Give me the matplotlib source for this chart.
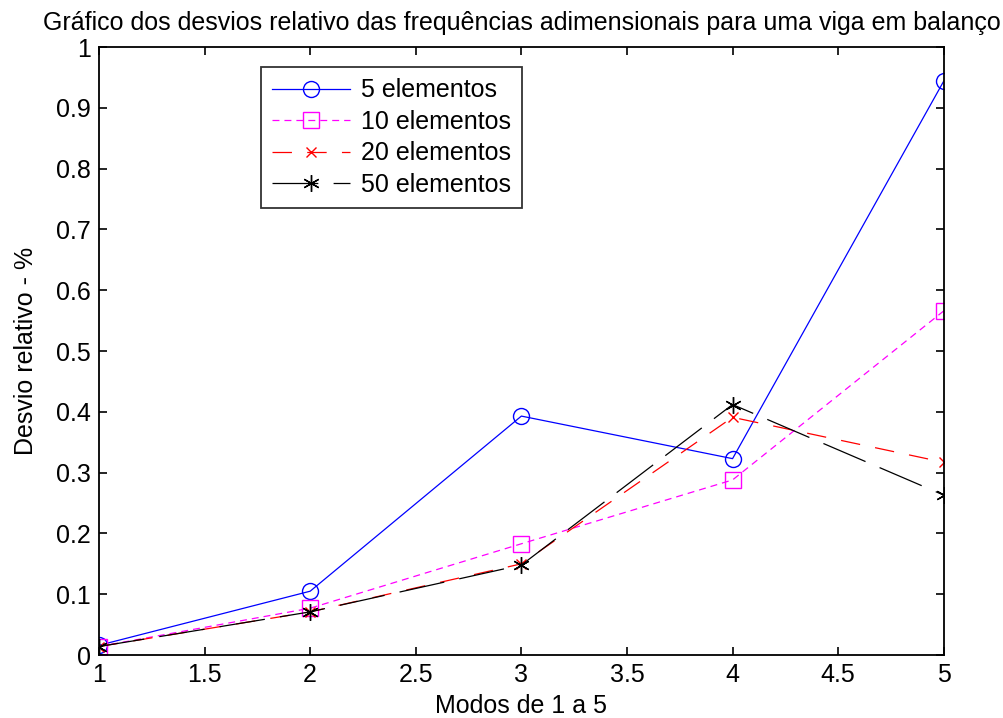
import numpy as np
import matplotlib.pyplot as plt

plt.rcParams['font.family'] = ['Liberation Sans', 'DejaVu Sans']
plt.rcParams['lines.scale_dashes'] = False

## DADOS
modos = [1, 2, 3, 4, 5]
desvio_5 = [0.016, 0.105, 0.393, 0.323, 0.944]
desvio_10 = [0.014, 0.077, 0.183, 0.288, 0.566]
desvio_20 = [0.014, 0.071, 0.150, 0.391, 0.317]
desvio_50 = [0.014, 0.071, 0.148, 0.412, 0.263]

fig = plt.figure(figsize=(10.04, 7.18), dpi=100)
ax = fig.add_axes([0.0986, 0.0877, 0.8414, 0.8468])

fs = 18
lw = 0.9
ax.plot(modos, desvio_5, color='#0000ff', lw=lw, marker='o', ms=11.5,
        mfc='none', mec='#0000ff', mew=1.0, label='5 elementos')
ax.plot(modos, desvio_10, color='#ff00ff', lw=lw, ls=(0, (5, 3.6)), marker='s',
        ms=11.5, mfc='none', mec='#ff00ff', mew=1.0, label='10 elementos')
ax.plot(modos, desvio_20, color='#ff0000', lw=lw, ls=(0, (14, 11)), marker='x',
        ms=7, mew=1.0, label='20 elementos')
ax.plot(modos, desvio_50, color='black', lw=lw, ls=(0, (33, 11)), marker=(6, 2, 0),
        ms=12, mew=1.0, label='50 elementos')

ax.set_xlim(1, 5)
ax.set_ylim(0, 1)
ax.set_xticks(np.arange(1, 5.01, 0.5))
ax.set_xticklabels(['1', '1.5', '2', '2.5', '3', '3.5', '4', '4.5', '5'])
ax.set_yticks(np.arange(0, 1.01, 0.1))
ax.set_yticklabels(['0', '0.1', '0.2', '0.3', '0.4', '0.5', '0.6', '0.7', '0.8', '0.9', '1'])
ax.tick_params(direction='in', length=6, labelsize=fs, width=1.2, top=True, right=True,
               labeltop=False, labelright=False, pad=6)
for s in ax.spines.values():
    s.set_linewidth(1.3)

ax.set_xlabel('Modos de 1 a 5', fontsize=fs, labelpad=5)
ax.set_ylabel('Desvio relativo - %', fontsize=fs, labelpad=13)
ax.set_title('Gráfico dos desvios relativo das frequências adimensionais para uma viga em balanço',
             fontsize=fs, pad=12)

leg = ax.legend(loc='upper left', bbox_to_anchor=(0.1917, 0.967), borderaxespad=0,
                fontsize=fs, frameon=True, fancybox=False, edgecolor='black',
                handlelength=3.1, handletextpad=0.45, borderpad=0.45,
                labelspacing=0.3)
leg.get_frame().set_linewidth(1.3)

fig.savefig('out.png', dpi=100)
